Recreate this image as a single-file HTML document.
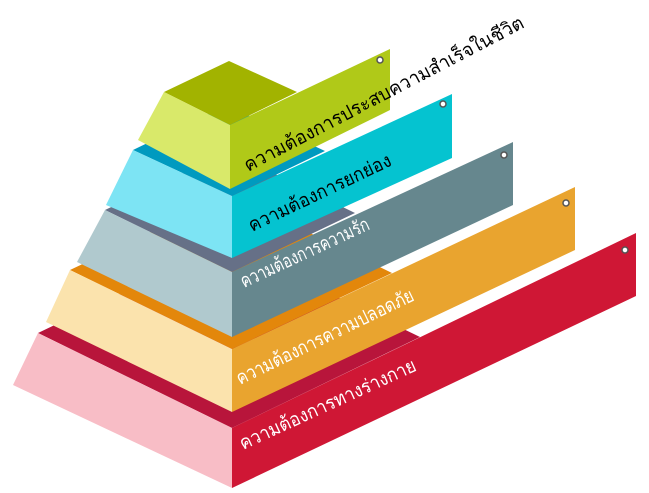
<!DOCTYPE html>
<html><head><meta charset="utf-8"><style>
html,body{margin:0;padding:0;background:#fff;width:649px;height:493px;overflow:hidden}
text{font-family:"Liberation Sans","DejaVu Sans",sans-serif;font-size:19px}
</style></head><body>
<svg width="649" height="493" viewBox="0 0 649 493" xmlns="http://www.w3.org/2000/svg">
<!-- red tier -->
<polygon points="38,333 232,428 420,337 226,243" fill="#b8153b"/>
<polygon points="38,333 232,428 232,488 13,385" fill="#f8bdc6"/>
<polygon points="232,428 636,233 636,296 232,488" fill="#cf1735"/>
<!-- orange tier -->
<polygon points="70,270 232,349 392,273 230,194" fill="#e3870b"/>
<polygon points="70,270 232,349 232,412 46,322" fill="#fbe3ad"/>
<polygon points="232,349 575,187 575,250 232,412" fill="#e9a42f"/>
<!-- gray tier -->
<polygon points="105,210 232,272 355,213 228,151" fill="#667087"/>
<polygon points="105,210 232,272 232,337 77,262" fill="#b0c9ce"/>
<polygon points="232,272 513,142 513,205 232,337" fill="#66878e"/>
<!-- cyan tier -->
<polygon points="133,150 232,196 325,151 226,105" fill="#009abf"/>
<polygon points="133,150 232,196 232,258 106,205" fill="#7de4f4"/>
<polygon points="232,196 452,94 452,158 232,258" fill="#05c3d0"/>
<!-- green tier -->
<polygon points="164,92 229,61 297,92 230,125" fill="#a2b300"/>
<polygon points="164,92 230,125 230,189 138,140" fill="#d9e96a"/>
<polygon points="230,125 390,49 390,110 230,189" fill="#b0c918"/>
<!-- dots -->
<g fill="#fff" stroke="#555" stroke-width="1.5">
<circle cx="380" cy="60" r="3"/><circle cx="443" cy="104" r="3"/><circle cx="504" cy="155" r="3"/><circle cx="566" cy="203" r="3"/><circle cx="625" cy="250" r="3"/>
</g>
<!-- labels -->
<text transform="translate(248,172) rotate(-27.6)" textLength="313" lengthAdjust="spacingAndGlyphs" fill="#000">ความต้องการประสบความสำเร็จในชีวิต</text>
<text transform="translate(252,232) rotate(-25.5)" textLength="156" lengthAdjust="spacingAndGlyphs" fill="#000">ความต้องการยกย่อง</text>
<text transform="translate(244,288) rotate(-25)" textLength="140" lengthAdjust="spacingAndGlyphs" fill="#fff">ความต้องการความรัก</text>
<text transform="translate(240,385) rotate(-25.9)" textLength="195" lengthAdjust="spacingAndGlyphs" fill="#fff">ความต้องการความปลอดภัย</text>
<text transform="translate(243,450) rotate(-24.6)" textLength="192" lengthAdjust="spacingAndGlyphs" fill="#fff">ความต้องการทางร่างกาย</text>
</svg>
</body></html>
